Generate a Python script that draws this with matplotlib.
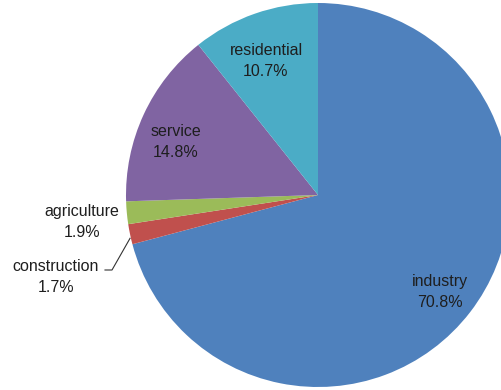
import matplotlib.pyplot as plt
import numpy as np

sectors = ['industry', 'construction', 'agriculture', 'service', 'residential']
shares = [70.8, 1.7, 1.9, 14.8, 10.7]
colors = ['#4F81BD', '#C0504D', '#9BBB59', '#8064A2', '#4BACC6']

# label anchor points in pixels from the top-left corner
label_xy = {
    'industry': (440, 292),
    'construction': (56, 277),
    'agriculture': (82, 222),
    'service': (176, 142),
    'residential': (266, 61),
}

plt.rcParams['font.family'] = ['Liberation Sans', 'DejaVu Sans']

W, H = 502, 390
fig = plt.figure(figsize=(W / 100, H / 100), dpi=100)
ax = fig.add_axes([0, 0, 1, 1])

cx, cy, r = 318, 195, 192
wedges, _ = ax.pie(shares, colors=colors, startangle=90, counterclock=False,
                   center=(cx, H - cy), radius=r, frame=True,
                   wedgeprops=dict(linewidth=0))
ax.set_xlim(0, W)
ax.set_ylim(0, H)
ax.set_aspect('equal')
ax.axis('off')

for name, val in zip(sectors, shares):
    tx, ty = label_xy[name]
    ax.text(tx, H - ty, f'{name}\n{val:.1f}%', ha='center', va='center',
            fontsize=11.5, color='#1e1e1e', linespacing=1.55,
            multialignment='center')

# leader line for the thin construction wedge
w = wedges[1]
mid = np.deg2rad((w.theta1 + w.theta2) / 2)
ex, ey = cx + r * np.cos(mid), (H - cy) + r * np.sin(mid)
ax.plot([105, 112, ex], [H - 270, H - 270, ey - 4], color='#333333', lw=0.8)

fig.savefig('out.png', dpi=100)
